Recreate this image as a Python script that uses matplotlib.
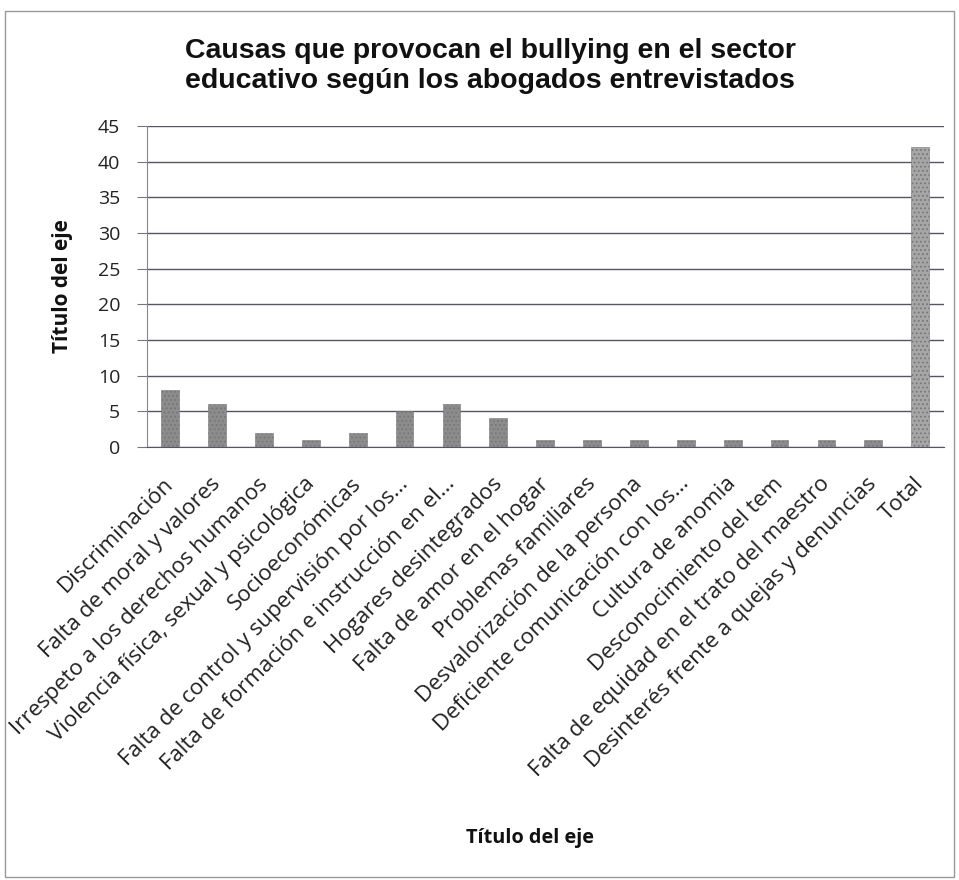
import numpy as np
import matplotlib
matplotlib.use("Agg")
import matplotlib.pyplot as plt
from matplotlib.patches import Rectangle
from matplotlib.transforms import ScaledTranslation

# causes and counts
categories = [
    "Discriminación",
    "Falta de moral y valores",
    "Irrespeto a los derechos humanos",
    "Violencia física, sexual y psicológica",
    "Socioeconómicas",
    "Falta de control y supervisión por los...",
    "Falta de formación e instrucción en el...",
    "Hogares desintegrados",
    "Falta de amor en el hogar",
    "Problemas familiares",
    "Desvalorización de la persona",
    "Deficiente comunicación con los...",
    "Cultura de anomia",
    "Desconocimiento del tem",
    "Falta de equidad en el trato del maestro",
    "Desinterés frente a quejas y denuncias",
    "Total",
]
counts = [8, 6, 2, 1, 2, 5, 6, 4, 1, 1, 1, 1, 1, 1, 1, 1, 42]
y_ticks = [0, 5, 10, 15, 20, 25, 30, 35, 40, 45]

title = "Causas que provocan el bullying en el sector\neducativo según los abogados entrevistados"
axis_title = "Título del eje"

label_font = ["Open Sans", "DejaVu Sans"]
title_font = ["Liberation Sans", "DejaVu Sans"]

plt.rcParams["hatch.color"] = "#6a6a6a"
plt.rcParams["hatch.linewidth"] = 0.8

fig = plt.figure(figsize=(9.59, 8.8), dpi=100)
ax = fig.add_axes([0.153, 0.492, 0.831, 0.365])

x = np.arange(len(categories))
colors = ["#8c8c8c"] * (len(categories) - 1) + ["#a6a6a6"]
ax.bar(x, counts, width=0.38, color=colors, edgecolor="#777777", linewidth=0.4,
       hatch="....", zorder=3)

ax.set_xlim(-0.5, len(categories) - 0.5)
ax.set_ylim(0, 45)
ax.set_yticks(y_ticks)
ax.set_yticklabels([str(v) for v in y_ticks], fontfamily=label_font, fontsize=14,
                   color="#222222")
ax.yaxis.grid(True, color="#55556a", linewidth=1.0, zorder=0)
ax.tick_params(axis="y", length=7, color="#777777", pad=12)
ax.tick_params(axis="x", length=0, pad=19)

ax.set_xticks(x)
ax.set_xticklabels(categories, rotation=45, ha="right", rotation_mode="anchor",
                   fontfamily=label_font, fontsize=16, color="#222222")

for side in ["top", "right"]:
    ax.spines[side].set_visible(False)
ax.spines["left"].set_color("#888888")
ax.spines["bottom"].set_color("#55556a")

ax.set_ylabel(axis_title, fontfamily=label_font, fontsize=15, fontweight="bold",
              labelpad=18, color="#111111")

fig.text(0.511, 0.925, title, ha="center", va="center", fontfamily=title_font,
         fontsize=20.5, fontweight="bold", linespacing=1.25, color="#111111")
fig.text(0.553, 0.048, axis_title, ha="center", va="center", fontfamily=label_font,
         fontsize=14.3, fontweight="bold", color="#111111")

# outer chart border, tick labels are cut at its left edge as in the original
border = Rectangle((0.005, 0.003), 0.99, 0.985, transform=fig.transFigure,
                   fill=False, edgecolor="#999999", linewidth=1.0)
fig.patches.append(border)
shift = ScaledTranslation(-5 / 72, 0, fig.dpi_scale_trans)
for lbl in ax.get_xticklabels():
    lbl.set_transform(lbl.get_transform() + shift)
    lbl.set_clip_path(border)

fig.savefig("out.png", dpi=100)
